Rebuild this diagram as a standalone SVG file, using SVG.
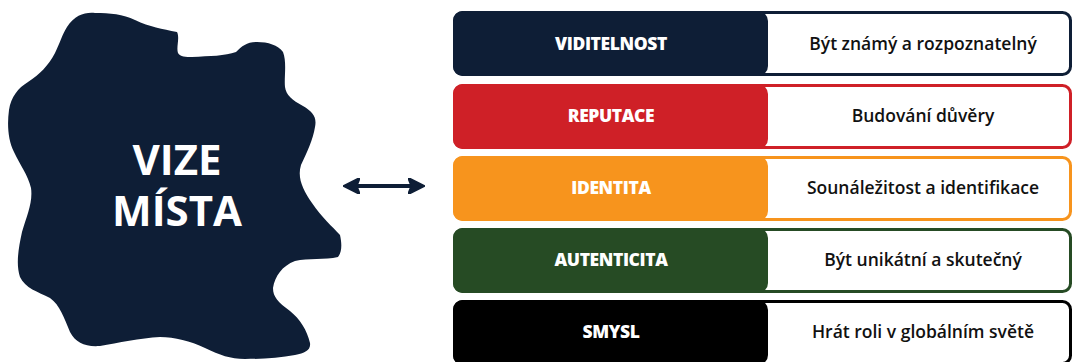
<svg xmlns="http://www.w3.org/2000/svg" width="1075" height="362" viewBox="0 0 1075 362">
  <defs>
    <style>
      .blob { fill: #0e1e36; }
      .title { font-family: "Open Sans", "Noto Sans", "Liberation Sans", sans-serif; font-weight: 700; font-size: 42px; fill: #ffffff; text-anchor: middle; }
      .frame { fill: #ffffff; stroke-width: 3; }
      .tag { font-family: "Open Sans", "Noto Sans", "Liberation Sans", sans-serif; font-weight: 800; font-size: 17.5px; fill: #ffffff; text-anchor: middle; letter-spacing: -0.4px; }
      .desc { font-family: "Open Sans", "Noto Sans", "Liberation Sans", sans-serif; font-weight: 600; font-size: 17.5px; fill: #111111; text-anchor: middle; }
      .link { stroke: #0e1e36; stroke-width: 4; fill: none; }
    </style>
    <marker id="head" viewBox="0 0 10 10" refX="6" refY="5" markerWidth="4.2" markerHeight="4.2" orient="auto-start-reverse" markerUnits="strokeWidth">
      <path d="M0,0 L10,5 L0,10 L2,5 Z" fill="#0e1e36" stroke="#0e1e36" stroke-width="1" stroke-linejoin="round"/>
    </marker>
  </defs>

  <!-- central vision blob -->
  <g id="vize-mista">
    <path class="blob" d="M67,27 C75,15 85,12 95,13 C110,13 123,14 135,20 C150,27 162,29 177,32 C180,38 176,47 178,53 C180,57 186,57 192,57 C210,56 225,56 236,52 C242,46 247,42 257,42 C268,42 278,45 283,52 C287,62 284,78 285,87 C286,95 292,100 303,106 C313,112 317,117 315,127 C313,140 307,152 301,165 C297,178 303,190 312,203 C322,218 332,226 340,235 C342,244 342,252 338,257 C325,260 308,258 295,261 C282,266 275,276 273,288 C273,297 278,302 290,311 C300,319 307,330 310,343 C311,350 305,353 295,355 C280,358 262,359 245,359 C230,359 220,355 205,348 C190,341 175,337 160,337 C140,338 118,343 100,346 C85,347 76,343 70,332 C64,318 60,305 50,298 C38,292 25,288 20,277 C16,265 18,250 22,232 C27,215 33,202 31,188 C28,175 20,165 14,152 C8,140 7,125 9,110 C11,97 18,88 28,82 C40,74 48,66 55,53 C60,43 62,35 67,27 Z"/>
    <text class="title"><tspan x="177" y="175">VIZE</tspan><tspan x="177" y="226">MÍSTA</tspan></text>
  </g>

  <!-- connectors -->
  <g id="connectors">
    <line class="link" x1="350" y1="186" x2="418" y2="186" marker-start="url(#head)" marker-end="url(#head)"/>
  </g>

  <!-- pillars -->
  <g id="viditelnost">
    <rect class="frame" x="454.5" y="12.5" width="616" height="62" rx="8" stroke="#0e1e36"/>
    <rect x="453" y="11" width="315" height="65" rx="10" fill="#0e1e36"/>
    <text class="tag" x="611" y="50">VIDITELNOST</text>
    <text class="desc" x="923" y="50">Být známý a rozpoznatelný</text>
  </g>
  <g id="reputace">
    <rect class="frame" x="454.5" y="85.5" width="616" height="62" rx="8" stroke="#cf2027"/>
    <rect x="453" y="84" width="315" height="65" rx="10" fill="#cf2027"/>
    <text class="tag" x="611" y="122">REPUTACE</text>
    <text class="desc" x="923" y="122">Budování důvěry</text>
  </g>
  <g id="identita">
    <rect class="frame" x="454.5" y="157.5" width="616" height="62" rx="8" stroke="#f7941d"/>
    <rect x="453" y="156" width="315" height="65" rx="10" fill="#f7941d"/>
    <text class="tag" x="611" y="194">IDENTITA</text>
    <text class="desc" x="923" y="194">Sounáležitost a identifikace</text>
  </g>
  <g id="autenticita">
    <rect class="frame" x="454.5" y="229.5" width="616" height="62" rx="8" stroke="#264b24"/>
    <rect x="453" y="228" width="315" height="65" rx="10" fill="#264b24"/>
    <text class="tag" x="611" y="266">AUTENTICITA</text>
    <text class="desc" x="923" y="266">Být unikátní a skutečný</text>
  </g>
  <g id="smysl">
    <rect class="frame" x="454.5" y="301.5" width="616" height="62" rx="8" stroke="#000000"/>
    <rect x="453" y="300" width="315" height="65" rx="10" fill="#000000"/>
    <text class="tag" x="611" y="338">SMYSL</text>
    <text class="desc" x="923" y="338">Hrát roli v globálním světě</text>
  </g>
</svg>
